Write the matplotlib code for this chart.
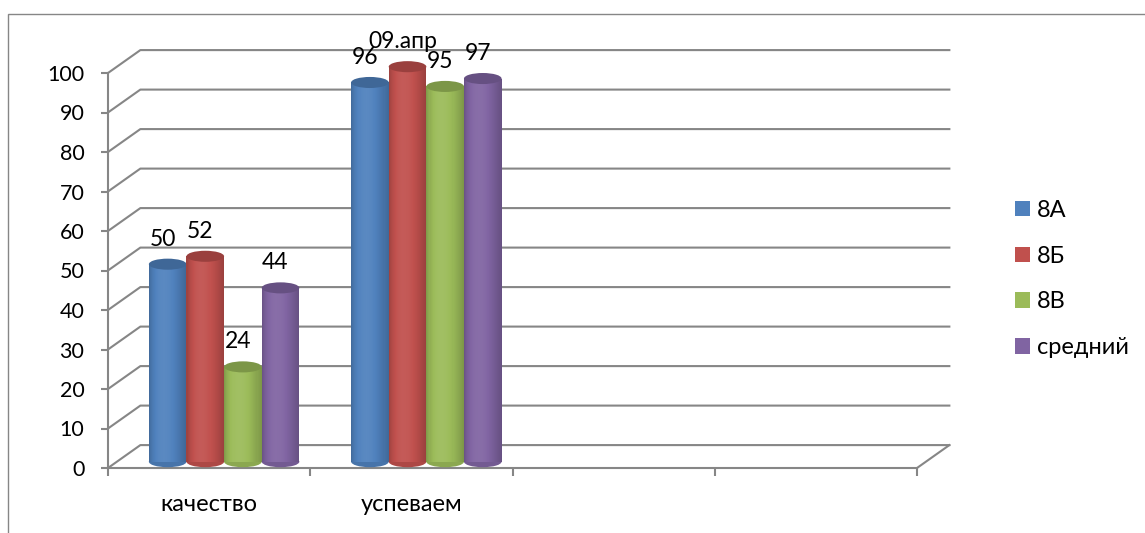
import numpy as np
import matplotlib
matplotlib.use("Agg")
import matplotlib.pyplot as plt
from matplotlib.patches import Ellipse, Patch, Rectangle
from matplotlib.colors import to_rgb

plt.rcParams['font.family'] = ['Lato', 'DejaVu Sans']

# data
categories = ["качество", "успеваем", "", ""]
series = ["8А", "8Б", "8В", "средний"]
colors = ["#4F81BD", "#C0504D", "#9BBB59", "#8064A2"]
values = {
    "8А": [50, 96],
    "8Б": [52, 100],
    "8В": [24, 95],
    "средний": [44, 97],
}
labels = {
    "8А": ["50", "96"],
    "8Б": ["52", "09.апр"],
    "8В": ["24", "95"],
    "средний": ["44", "97"],
}
yticks = list(range(0, 101, 10))

gray = "#868686"
W, H = 1145, 533
fig = plt.figure(figsize=(W / 100, H / 100), dpi=100)
ax = fig.add_axes([108 / W, (H - 468) / H, (917 - 108) / W, (468 - 73) / H])
ax.set_xlim(0, 4)
ax.set_ylim(0, 100)

# depth of the 3d box (data units)
ddx, ddy = 0.16, 5.8

# back wall gridlines with the diagonal to the front axis
for v in yticks:
    ax.plot([0, ddx, 4 + ddx], [v, v + ddy, v + ddy], color=gray, lw=1.5,
            clip_on=False, zorder=1)
ax.plot([4, 4 + ddx], [0, ddy], color=gray, lw=1.5, clip_on=False, zorder=1)


def shade(c, f):
    rgb = np.array(to_rgb(c))
    if f >= 1:
        return tuple(rgb + (1 - rgb) * (f - 1))
    return tuple(rgb * f)


bw = 0.186
shift_x, shift_y = 0.074, 1.6
ell_h = 2.8
nstrip = 36
t = (np.arange(nstrip) + 0.5) / nstrip
prof = 0.8 + 0.26 * np.sin(np.pi * t ** 0.75)

for ci in range(2):
    for si, name in enumerate(series):
        v = values[name][ci]
        col = colors[si]
        cx = ci + 0.5 + shift_x + (si - 1.5) * bw
        left = cx - bw / 2
        base = shift_y
        top = v + shift_y
        ax.add_patch(Ellipse((cx, base), bw, ell_h, color=shade(col, 0.9), lw=0,
                             zorder=3, clip_on=False))
        for j in range(nstrip):
            c = shade(col, prof[j])
            ax.bar(left + j * bw / nstrip, top - base, width=bw / nstrip, bottom=base,
                   align='edge', color=c, lw=0, antialiased=False, zorder=3,
                   clip_on=False)
        ax.add_patch(Ellipse((cx, top), bw, ell_h, color=shade(col, 0.8), lw=0,
                             zorder=3, clip_on=False))
        ax.text(cx - 0.025, top + 6.3, labels[name][ci], ha='center', va='center',
                fontsize=16.5, zorder=5)

# axes styling
for s in ["top", "right"]:
    ax.spines[s].set_visible(False)
for s in ["left", "bottom"]:
    ax.spines[s].set_color(gray)
    ax.spines[s].set_linewidth(1.5)
ax.set_yticks(yticks)
ax.tick_params(axis='y', length=5, width=1.5, color=gray, labelsize=15.5, pad=12)
ax.set_xticks(range(5))
ax.set_xticklabels([])
ax.tick_params(axis='x', which='major', length=6, width=1.5, color=gray)
ax.set_xticks([0.5, 1.5, 2.5, 3.5], minor=True)
ax.set_xticklabels(categories, minor=True)
ax.tick_params(axis='x', which='minor', length=0, labelsize=17, pad=19)
ax.patch.set_visible(False)

handles = [Patch(facecolor=c, edgecolor='none') for c in colors]
fig.legend(handles, series, loc='center left', bbox_to_anchor=(1015 / W, 1 - 279 / H),
           frameon=False, fontsize=17, borderpad=0, borderaxespad=0,
           handlelength=0.62, handleheight=0.62, handletextpad=0.3, labelspacing=1.05)

# chart border
fig.add_artist(Rectangle((7.5 / W, -0.1), 1.2, (H - 13.5) / H + 0.1, transform=fig.transFigure,
                         fill=False, edgecolor=gray, lw=1))

fig.savefig("out.png", dpi=100)
